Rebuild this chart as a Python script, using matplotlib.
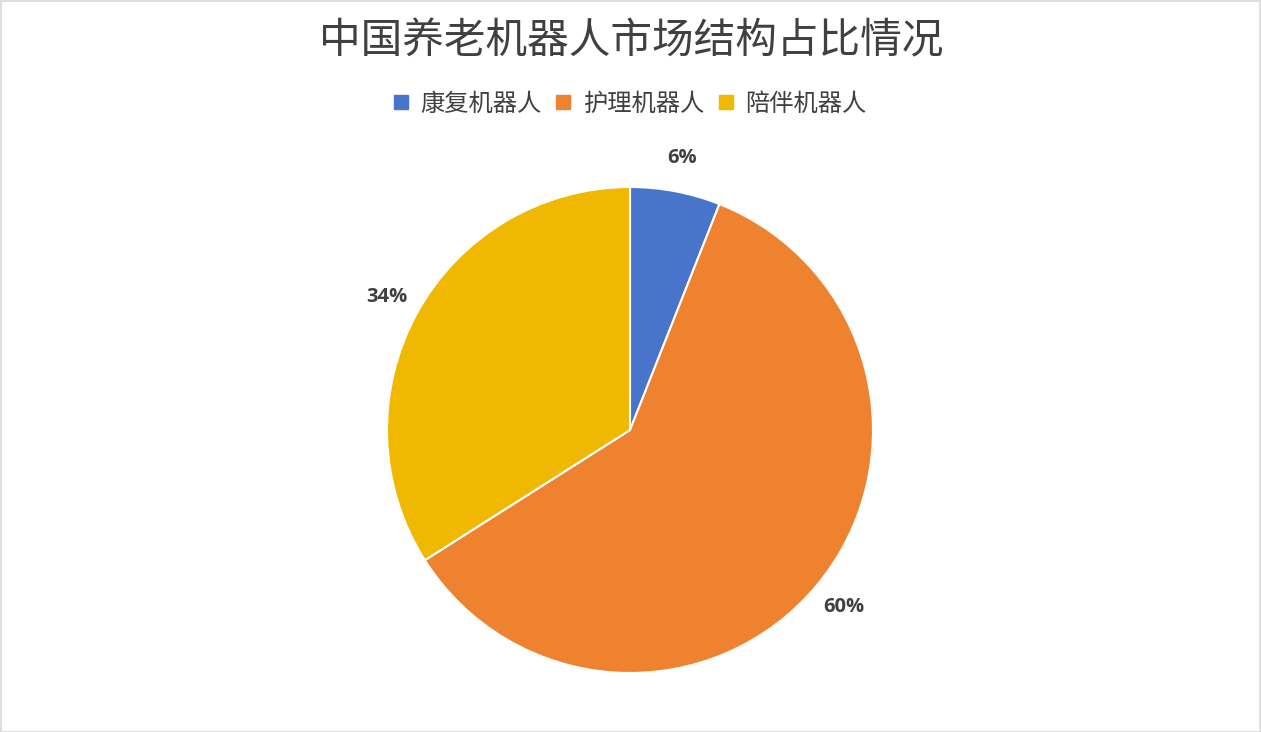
import matplotlib.pyplot as plt
from matplotlib.patches import Rectangle
from matplotlib.lines import Line2D

plt.rcParams['font.family'] = ['Noto Sans CJK SC', 'DejaVu Sans']

# data
categories = ["康复机器人", "护理机器人", "陪伴机器人"]
shares = [6, 60, 34]
colors = ["#4874CB", "#EE822F", "#F0B800"]
title = "中国养老机器人市场结构占比情况"

W, H = 1261, 732
fig = plt.figure(figsize=(W / 100, H / 100), dpi=100)
fig.patch.set_facecolor("white")

# pie centre (630, 430) px, radius 243 px
cx, cy, r = 630, 430, 243
ax = fig.add_axes([(cx - r) / W, (H - cy - r) / H, 2 * r / W, 2 * r / H])
wedges, texts = ax.pie(
    shares, colors=colors, startangle=90, counterclock=False,
    labels=[f"{v}%" for v in shares], labeldistance=1.14,
    wedgeprops=dict(edgecolor="white", linewidth=1.5),
    textprops=dict(fontsize=14.5, fontweight="bold", color="#404040",
                   family=["Open Sans", "DejaVu Sans"]),
)
for t in texts:
    t.set_horizontalalignment("center")
    t.set_verticalalignment("center")
ax.set_xlim(-1, 1)
ax.set_ylim(-1, 1)
ax.set_aspect("equal")
ax.axis("off")

fig.text(631 / W, 1 - 42 / H, title, ha="center", va="center",
         fontsize=30, color="#404040")

handles = [Line2D([], [], marker="s", linestyle="none", markersize=10,
                  markerfacecolor=c, markeredgecolor=c) for c in colors]
fig.legend(handles, categories, loc="center", bbox_to_anchor=(cx / W, 1 - 104 / H),
           ncol=3, frameon=False, fontsize=17.5, handlelength=0.6,
           handletextpad=0.5, columnspacing=0.6, labelcolor="#404040")

fig.patches.append(Rectangle((0.5 / W, 0.5 / H), 1 - 1.5 / W, 1 - 1.5 / H,
                             transform=fig.transFigure, fill=False,
                             edgecolor="#D9D9D9", linewidth=1.2))

fig.savefig("out.png", dpi=100)
